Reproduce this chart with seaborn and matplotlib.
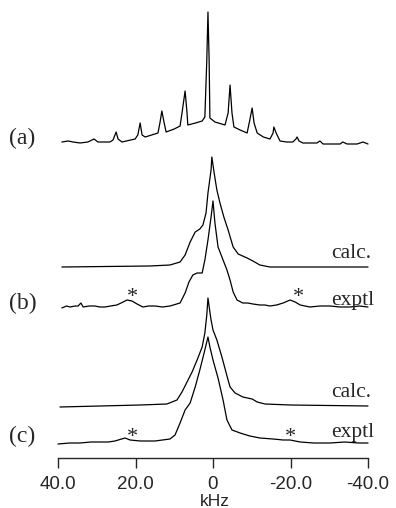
import numpy as np
import pandas as pd
import matplotlib
matplotlib.use('Agg')
import matplotlib.pyplot as plt
import seaborn as sns

sns.set_style('white')
plt.rcParams['font.family'] = ['Liberation Sans', 'DejaVu Sans']

# spectra: frequency (kHz) and height above each trace's baseline
a_khz = [39.0, 37.4, 36.1, 34.3, 32.3, 30.7, 29.7, 26.6, 25.8, 25.0, 24.5, 23.5,
         20.1, 19.4, 18.8, 18.3, 17.5, 14.2, 13.7, 13.2, 12.6, 12.1, 10.0, 8.5, 8.0, 7.2,
         6.7, 6.5, 4.5, 2.8, 2.1, 1.6, 1.3, 1.0, 0.8, -0.5, -3.1, -3.9, -4.4, -4.9, -5.4,
         -7.0, -8.8, -9.5, -10.1, -10.6, -11.4, -13.0, -14.7, -15.5, -15.7, -16.3, -17.3,
         -19.0, -20.6, -21.4, -21.7, -22.2, -23.2, -26.8, -27.6, -28.4, -32.8, -33.5,
         -34.6, -37.2, -38.7, -40.0]
a_int = [1, 2, 1, 0, 1, 4, 1, 1, 3, 11, 4, 1,
         4, 8, 20, 8, 6, 10, 20, 32, 20, 11, 14, 17, 30, 52,
         30, 18, 20, 22, 26, 83, 131, 83, 25, 21, 18, 30, 58, 30, 16,
         13, 10, 23, 35, 20, 10, 6, 4, 10, 16, 10, 2,
         1, 1, 4, 6, 2, 0, 0, 2, -1, -1, 1,
         -1, -1, 1, -1]

b_calc_khz = [39.0, 16.3, 11.1, 8.5, 7.2, 5.9, 4.6, 3.4, 2.6, 1.8, 1.3, 0.5, 0.3,
              -0.3, -1.0, -1.8, -2.8, -3.9, -5.2, -6.5, -8.8, -10.3, -12.1, -14.7, -40.0]
b_calc_int = [0, 1, 2, 5, 12, 25, 35, 38, 42, 54, 74, 97, 110,
              94, 77, 64, 50, 37, 20, 13, 9, 6, 2, 0, 0]

b_exp_khz = [39.0, 37.8, 36.9, 35.6, 34.8, 34.1, 33.5, 32.0, 30.5, 29.2, 27.9, 26.4,
             24.8, 23.2, 22.2, 20.9, 19.6, 18.1, 16.6, 15.0, 13.0, 11.1, 8.5, 7.2, 6.2,
             5.2, 4.1, 2.8, 2.1, 1.3, 0.5, 0.0, -0.5, -1.3, -2.6, -3.6, -4.4, -5.2,
             -6.2, -7.7, -9.0, -10.3, -12.1, -13.4, -14.7, -16.4, -18.1, -19.9, -21.2,
             -22.5, -25.0, -27.6, -30.2, -32.8, -35.4, -37.8, -40.0]
b_exp_int = [-1, 1, 0, 1, 1, 4, 0, 1, 1, 0, 0, 1,
             2, 5, 7, 6, 3, 0, 1, 1, 0, 1, 4, 14, 25,
             32, 34, 34, 47, 67, 90, 106, 84, 60, 47, 37, 27, 15,
             7, 4, 4, 3, 2, 2, 1, 2, 4, 7, 5,
             2, 0, 1, 1, 0, 0, 1, 0]

c_calc_khz = [39.5, 18.8, 11.9, 9.3, 8.0, 6.7, 5.4, 4.1, 2.8, 2.1, 1.6, 1.3, 0.8, 0.5,
              0.0, -1.0, -2.3, -3.4, -4.4, -5.7, -7.7, -10.1, -11.4, -13.4, -19.9, -40.0]
c_calc_int = [-1, 1, 2, 6, 14, 24, 34, 46, 59, 73, 91, 108, 94, 86,
              76, 66, 49, 33, 19, 13, 9, 7, 4, 2, 1, 0]

c_exp_khz = [40.0, 37.0, 34.3, 31.5, 29.2, 27.0, 25.3, 22.7, 21.4, 18.8, 15.0, 11.1, 9.8,
             8.5, 7.2, 5.9, 4.6, 3.4, 2.3, 1.3, 0.8, 0.0, -1.3, -2.6, -3.6, -4.9, -7.0,
             -9.5, -12.1, -15.5, -18.1, -19.9, -22.5, -26.0, -30.2, -34.0, -37.5, -40.0]
c_exp_int = [-1, 0, 0, 1, 1, 1, 2, 5, 3, 2, 2, 4, 8,
             20, 33, 40, 56, 73, 90, 106, 96, 83, 65, 43, 23, 13, 10,
             7, 5, 4, 3, 3, 1, 0, 0, 1, 0, 0]

ticks = [40.0, 20.0, 0.0, -20.0, -40.0]
tick_labels = ['40.0', '20.0', '0', '-20.0', '-40.0']

W, H = 396, 508
fig = plt.figure(figsize=(W / 100, H / 100), dpi=100)
ax = fig.add_axes([58 / W, 50 / H, 310 / W, 458 / H])

traces = [(a_khz, a_int, 315), (b_calc_khz, b_calc_int, 191), (b_exp_khz, b_exp_int, 151),
          (c_calc_khz, c_calc_int, 52), (c_exp_khz, c_exp_int, 15)]
for khz, inten, off in traces:
    df = pd.DataFrame({'khz': khz, 'y': np.array(inten) + off})
    sns.lineplot(data=df, x='khz', y='y', sort=False, estimator=None, color='black',
                 linewidth=0.9, ax=ax, clip_on=False)

ax.set_xlim(40, -40)
ax.set_ylim(0, 458)
for s in ['top', 'left', 'right']:
    ax.spines[s].set_visible(False)
ax.spines['bottom'].set_linewidth(1.0)
ax.set_yticks([])
ax.set_xticks(ticks)
ax.set_xticklabels(tick_labels)
ax.tick_params(axis='x', direction='out', length=7, width=1, pad=6, labelsize=13.5,
               bottom=True)
ax.set_xlabel('')
ax.set_ylabel('')


def px(x, y):
    return x / W, 1 - y / H


fig.text(*px(215, 506), 'kHz', fontsize=12.5, ha='center', va='baseline')

serif = ['Liberation Serif', 'DejaVu Serif']
for lab, y in [('(a)', 138), ('(b)', 303), ('(c)', 436)]:
    fig.text(*px(9, y), lab, family=serif, fontsize=17, ha='left', va='center')
for lab, y in [('calc.', 258), ('exptl', 305), ('calc.', 397), ('exptl', 437)]:
    fig.text(*px(331, y), lab, family=serif, fontsize=15.5, ha='left', va='baseline')
for x, y in [(132, 295), (298, 295), (132, 435), (290, 435)]:
    fig.text(*px(x, y + 3), '*', family=serif, fontsize=16, ha='center', va='center')

fig.savefig('out.png', dpi=100)
